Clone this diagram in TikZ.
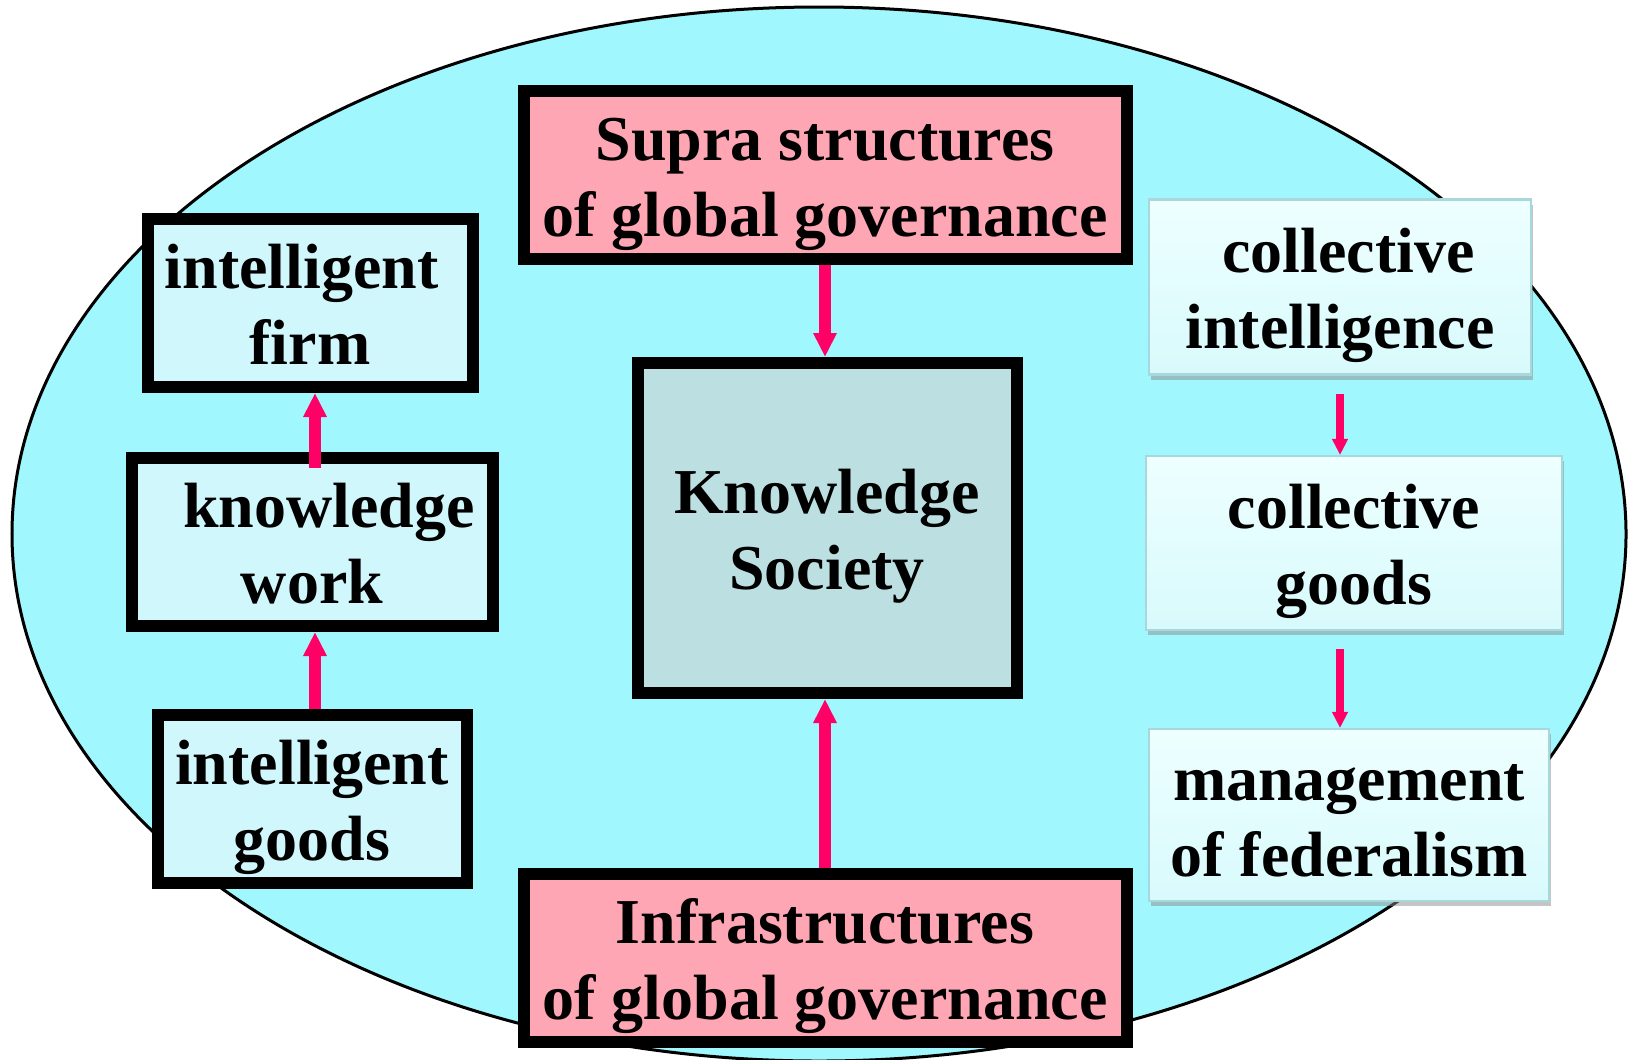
\documentclass[tikz,border=0pt]{standalone}
\usepackage{fontspec}
\setmainfont{Liberation Serif}
\usetikzlibrary{arrows.meta,shadows}

\definecolor{skycyan}{RGB}{160,247,253}
\definecolor{govpink}{RGB}{255,166,180}
\definecolor{coretone}{RGB}{188,224,226}
\definecolor{leftcyan}{RGB}{207,247,252}
\definecolor{palecyan}{RGB}{238,255,255}
\definecolor{palecyanb}{RGB}{216,250,252}
\definecolor{paleedge}{RGB}{168,216,220}
\definecolor{arrowpink}{RGB}{255,0,102}

\begin{document}
\begin{tikzpicture}[x=1cm,y=1cm]

    \tikzset{
      twolines/.style={
        inner sep=0pt,
        align=center,
        text height=39.2pt,
        text depth=4pt,
        font=\fontsize{18.2}{21.6}\selectfont\bfseries,
      },
      boldbox/.style={twolines, draw=black, line width=0.12cm},
      govbox/.style={boldbox, fill=govpink, minimum width=6.03cm, minimum height=1.68cm},
      leftbox/.style={boldbox, fill=leftcyan, minimum height=1.68cm},
      softbox/.style={
        twolines,
        draw=paleedge,
        line width=0.6pt,
        top color=palecyan,
        bottom color=palecyanb,
        drop shadow={shadow xshift=0.02cm, shadow yshift=-0.05cm, fill=black!45, opacity=0.5},
      },
      bigarrow/.style={draw=arrowpink, line width=0.12cm, -{Triangle[width=0.22cm,length=0.24cm]}},
      smallarrow/.style={draw=arrowpink, line width=0.075cm, -{Triangle[width=0.15cm,length=0.16cm]}},
    }
    \useasboundingbox (0,0) rectangle (16.32,-10.59);
    \draw[fill=skycyan, line width=0.03cm] (8.19,-5.34) ellipse [x radius=8.07cm, y radius=5.27cm];

	\node[govbox] (supra) at (8.25,-1.75) {Supra structures\\of global governance};
	\node[govbox] (infra) at (8.25,-9.58) {Infrastructures\\of global governance};
	\node[boldbox, fill=coretone, minimum width=3.79cm, minimum height=3.30cm] (society) at (8.27,-5.28) {Knowledge\\Society};

	\node[leftbox, minimum width=3.25cm] (firm) at (3.10,-3.03) {intelligent\hspace*{0.17cm}\\firm};
	\node[leftbox, minimum width=3.61cm] (work) at (3.12,-5.42) {\hspace*{0.34cm}knowledge\\work};
	\node[leftbox, minimum width=3.09cm] (goods) at (3.12,-7.99) {intelligent\\goods};

	\node[softbox, minimum width=3.82cm, minimum height=1.75cm] (collint) at (13.40,-2.87) {\hspace*{0.17cm}collective\\intelligence};
	\node[softbox, minimum width=4.16cm, minimum height=1.74cm] (collgoods) at (13.54,-5.43) {collective\\goods};
	\node[softbox, minimum width=4.00cm, minimum height=1.72cm] (federal) at (13.49,-8.15) {management\\of federalism};

	\draw[bigarrow] (supra.south) -- (supra.south |- society.north);
	\draw[bigarrow] (infra.north) -- (infra.north |- society.south);
	\draw[bigarrow] ([xshift=0.03cm]goods.north) -- ([xshift=0.03cm]goods.north |- work.south);
	\draw[bigarrow, shorten <=-0.16cm] ([xshift=0.03cm]goods.north |- work.north) -- ([xshift=0.03cm]goods.north |- firm.south);
	\draw[smallarrow, shorten <=0.18cm] (collint.south) -- (collint.south |- collgoods.north);
	\draw[smallarrow, shorten <=0.18cm] (collint.south |- collgoods.south) -- (collint.south |- federal.north);

\end{tikzpicture}
\end{document}
